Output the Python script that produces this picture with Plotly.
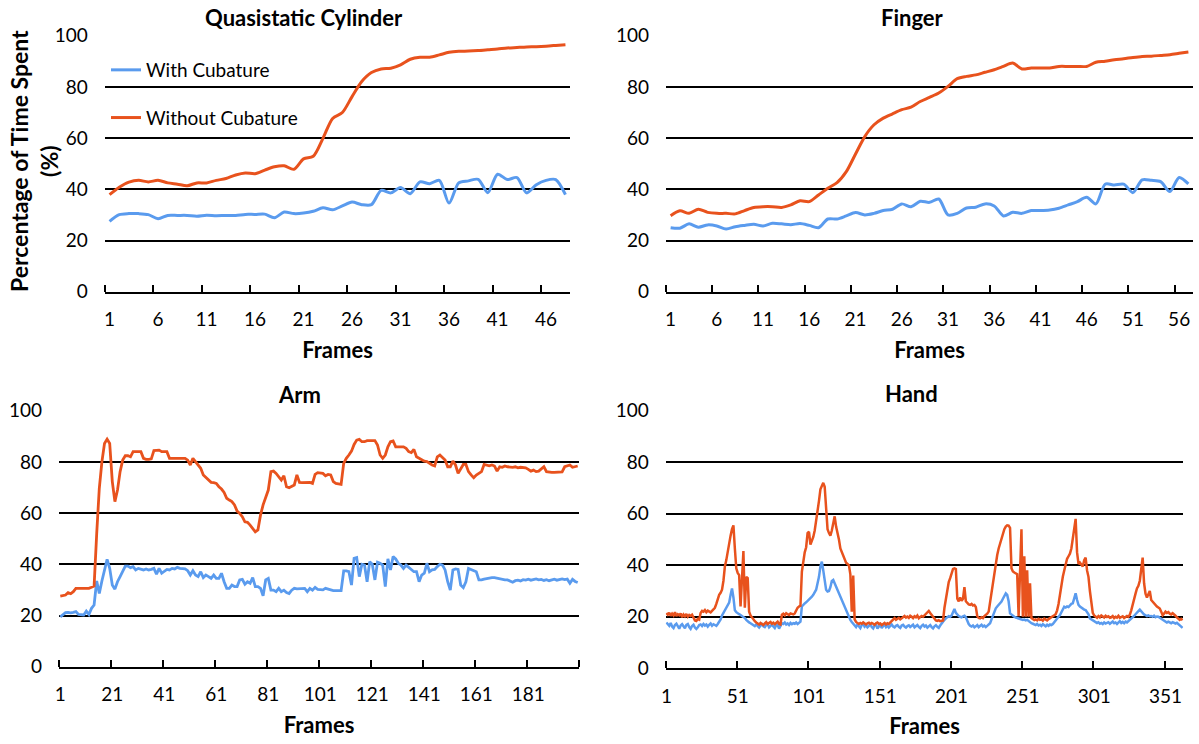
import plotly.graph_objects as go

BLUE = "#5A9BEE"
ORANGE = "#E8521D"
FONT = "Lato"
W, H = 1199, 744

# ---------------- data ----------------
cyl_frames = list(range(1, 49))
cyl_ticks = [1, 6, 11, 16, 21, 26, 31, 36, 41, 46]
cyl_with = [27.5, 30.1, 30.5, 30.5, 30.1, 28.5, 29.8, 29.8, 29.8, 29.5,
            29.9, 29.7, 29.8, 29.8, 30.2, 30.2, 30.3, 28.9, 31.1, 30.5,
            30.7, 31.4, 32.8, 32.0, 33.5, 35.0, 34.0, 34.0, 39.6, 38.6,
            40.7, 38.3, 42.9, 42.2, 43.5, 34.6, 42.5, 43.3, 43.9, 38.7,
            45.9, 43.8, 44.6, 38.6, 41.8, 43.5, 43.8, 37.9]
cyl_without = [37.9, 40.8, 42.8, 43.5, 42.9, 43.5, 42.5, 42.0, 41.4, 42.5,
               42.5, 43.5, 44.2, 45.6, 46.4, 46.1, 47.5, 48.8, 49.2, 47.8,
               51.9, 52.9, 59.9, 67.7, 70.0, 76.2, 82.1, 85.6, 87.0, 87.3,
               88.6, 90.8, 91.6, 91.6, 92.5, 93.5, 93.9, 94.0, 94.2, 94.5,
               94.8, 95.2, 95.4, 95.6, 95.7, 95.9, 96.2, 96.5]

finger_frames = list(range(1, 58))
finger_ticks = [1, 6, 11, 16, 21, 26, 31, 36, 41, 46, 51, 56]
finger_with = [25.0, 24.8, 26.5, 25.2, 26.1, 25.7, 24.5, 25.4, 25.9, 26.3,
               25.7, 26.7, 26.5, 26.2, 26.6, 25.9, 25.0, 28.4, 28.4, 29.6,
               30.9, 30.0, 30.6, 31.7, 32.2, 34.3, 33.2, 35.3, 34.9, 36.2,
               30.0, 30.6, 32.7, 33.0, 34.3, 33.5, 29.6, 31.0, 30.6, 31.7,
               31.7, 31.9, 32.6, 33.9, 35.2, 36.9, 34.3, 42.0, 41.7, 42.0,
               38.7, 43.7, 43.5, 43.0, 39.1, 44.6, 42.1]
finger_without = [29.7, 31.6, 30.6, 32.2, 31.0, 30.6, 30.6, 30.4, 31.7, 32.9,
                  33.2, 33.2, 32.9, 33.9, 35.5, 35.2, 37.8, 40.4, 42.6, 46.9,
                  53.8, 60.6, 65.2, 67.8, 69.5, 71.1, 72.1, 74.3, 75.9, 77.6,
                  80.2, 83.2, 84.1, 84.7, 85.7, 86.7, 88.0, 89.3, 87.0, 87.4,
                  87.4, 87.4, 88.0, 88.0, 88.0, 88.0, 89.6, 90.0, 90.6, 91.0,
                  91.5, 91.9, 92.0, 92.3, 92.6, 93.1, 93.6]

arm_frames = list(range(1, 201))
arm_ticks = [1, 21, 41, 61, 81, 101, 121, 141, 161, 181]
arm_with = [19.5, 20.4, 21.1, 21.2, 21.0, 21.2, 21.5, 20.4, 20.4, 20.2,
            21.7, 20.4, 22.8, 24.1, 33.5, 28.6, 33.5, 38.4, 41.9, 38.4,
            31.9, 30.3, 33.2, 35.2, 37.1, 39.3, 39.3, 38.7, 39.1, 37.8,
            38.4, 38.0, 37.8, 38.2, 37.8, 38.0, 38.4, 36.1, 38.4, 36.5,
            37.1, 38.0, 37.8, 38.4, 38.2, 38.8, 38.4, 38.4, 38.2, 37.5,
            35.8, 37.5, 35.8, 35.2, 37.1, 34.8, 35.8, 35.2, 34.5, 35.8,
            34.5, 34.5, 36.5, 33.2, 30.6, 30.6, 31.9, 31.3, 31.3, 33.9,
            34.1, 32.2, 33.2, 32.6, 34.8, 31.3, 31.3, 30.6, 27.7, 33.9,
            34.5, 29.9, 29.9, 29.3, 30.6, 29.3, 29.9, 29.0, 28.6, 29.9,
            30.6, 30.4, 30.5, 30.6, 30.6, 29.3, 30.6, 29.9, 31.0, 30.2,
            30.0, 30.0, 30.6, 30.3, 29.7, 29.7, 29.7, 29.7, 29.7, 37.4,
            37.4, 37.1, 31.9, 42.3, 42.6, 35.2, 40.0, 39.7, 33.2, 41.0,
            40.0, 33.9, 40.8, 40.4, 39.7, 31.3, 42.1, 37.8, 43.0, 42.1,
            40.4, 39.7, 38.4, 39.7, 38.7, 38.0, 37.1, 37.1, 33.2, 35.8,
            36.5, 40.4, 37.1, 37.8, 38.0, 39.1, 40.0, 39.7, 37.8, 33.2,
            29.9, 37.8, 38.2, 38.0, 31.9, 30.9, 33.2, 38.4, 38.0, 37.8,
            37.1, 33.9, 33.9, 34.2, 34.5, 34.5, 34.8, 34.8, 34.5, 34.2,
            34.2, 33.9, 33.9, 33.5, 33.0, 33.6, 33.8, 33.5, 34.0, 33.8,
            34.2, 33.8, 34.0, 34.3, 33.9, 34.1, 33.7, 34.0, 33.6, 34.0,
            34.2, 33.8, 34.1, 34.3, 34.0, 34.2, 32.6, 34.1, 33.3, 32.9]
arm_without = [27.6, 27.8, 28.0, 28.9, 28.5, 29.3, 30.6, 30.6, 30.6, 30.6,
               30.6, 30.6, 31.0, 31.5, 52.0, 69.7, 80.0, 87.2, 88.9, 87.2,
               72.3, 64.5, 69.0, 76.2, 80.7, 82.4, 82.4, 82.0, 84.0, 84.0,
               84.2, 84.0, 81.4, 81.0, 81.0, 81.2, 84.4, 84.6, 84.6, 84.0,
               84.0, 84.0, 81.4, 81.4, 81.6, 81.6, 81.6, 81.6, 81.4, 80.7,
               78.8, 81.4, 80.0, 78.8, 77.5, 74.9, 73.8, 72.9, 72.0, 71.9,
               71.6, 70.3, 69.4, 68.1, 65.8, 65.1, 64.5, 63.2, 60.8, 59.9,
               58.6, 56.6, 56.4, 55.3, 53.8, 52.7, 53.4, 59.2, 63.2, 65.8,
               69.0, 76.2, 76.4, 75.5, 74.2, 72.9, 74.6, 70.3, 69.9, 70.3,
               71.0, 74.9, 72.0, 71.9, 71.9, 72.0, 72.0, 71.6, 75.1, 75.8,
               75.5, 75.5, 74.6, 75.1, 74.9, 72.3, 71.6, 71.4, 71.2, 79.4,
               81.4, 82.7, 84.2, 86.8, 88.5, 88.8, 87.9, 87.9, 88.3, 88.3,
               88.3, 88.3, 86.6, 82.7, 81.4, 82.7, 85.9, 87.9, 88.2, 85.9,
               85.9, 85.9, 85.9, 85.3, 84.0, 83.6, 84.9, 82.0, 81.4, 80.7,
               80.3, 80.1, 79.4, 78.8, 78.4, 82.0, 82.7, 81.6, 80.7, 78.1,
               78.1, 80.3, 78.8, 75.5, 77.5, 79.0, 79.0, 76.2, 74.9, 73.8,
               74.9, 75.5, 76.2, 79.0, 78.8, 78.5, 78.8, 78.4, 76.4, 78.1,
               77.9, 78.4, 78.1, 77.9, 77.9, 78.1, 77.7, 77.9, 77.7, 77.7,
               77.1, 76.4, 76.8, 76.2, 76.4, 77.3, 78.1, 76.2, 75.9, 75.9,
               75.9, 75.9, 75.9, 76.1, 78.1, 78.4, 78.8, 77.9, 78.1, 78.4]

hand_frames = list(range(1, 364))
hand_ticks = [1, 51, 101, 151, 201, 251, 301, 351]
hand_with = [17.8, 17.2, 16.5, 17.6, 16.2, 15.6, 16.8, 17.3, 16.0, 15.4,
             16.6, 17.1, 16.3, 15.5, 16.9, 17.2, 16.0, 15.3, 16.4, 16.9,
             15.8, 15.3, 15.9, 16.8, 17.0, 16.4, 17.2, 16.6, 17.0, 16.2,
             16.9, 17.4, 16.5, 17.1, 16.8, 16.5, 17.2, 18.0, 19.0, 20.5,
             21.5, 22.6, 23.5, 24.5, 25.5, 28.5, 31.0, 27.5, 22.5, 21.8,
             21.3, 21.0, 20.7, 20.4, 20.0, 19.5, 18.8, 18.2, 17.8, 17.5,
             17.1, 16.8, 16.4, 17.0, 16.5, 15.8, 16.6, 17.1, 16.3, 16.0,
             16.8, 17.2, 15.9, 16.4, 17.0, 16.2, 15.6, 16.7, 16.9, 15.4,
             16.3, 17.5, 17.2, 17.8, 17.0, 17.4, 16.8, 17.6, 17.1, 17.5,
             17.3, 17.8, 17.2, 17.6, 18.1, 24.0, 24.8, 25.2, 25.6, 26.1,
             26.5, 27.0, 27.8, 28.5, 29.5, 30.5, 33.0, 35.5, 39.5, 41.4,
             38.0, 34.5, 30.5, 29.8, 30.0, 31.5, 33.9, 34.3, 33.0, 31.7,
             30.0, 28.5, 27.8, 26.5, 25.2, 23.5, 22.0, 20.8, 19.5, 18.8,
             18.0, 17.2, 16.5, 16.0, 17.0, 16.3, 15.6, 16.8, 17.4, 16.2,
             16.7, 15.9, 16.4, 17.3, 16.0, 15.5, 16.6, 17.0, 15.4, 16.2,
             16.9, 15.6, 16.3, 17.1, 16.0, 16.6, 15.8, 16.4, 17.0, 16.2,
             15.9, 16.5, 16.8, 16.1, 15.7, 16.6, 16.9, 16.2, 15.8, 16.4,
             16.7, 16.0, 16.5, 16.9, 15.9, 16.3, 16.8, 16.1, 15.6, 16.5,
             16.9, 16.2, 16.6, 15.8, 16.4, 16.8, 16.0, 15.5, 16.3, 16.7,
             16.1, 15.7, 16.6, 17.5, 18.2, 18.8, 19.4, 19.8, 20.2, 20.0,
             20.5, 21.8, 23.0, 21.5, 20.7, 20.3, 20.0, 19.8, 20.2, 20.4,
             19.8, 18.1, 17.2, 16.5, 16.2, 16.6, 15.9, 16.3, 16.8, 16.0,
             16.4, 16.9, 16.2, 16.6, 16.0, 16.5, 16.8, 17.5, 19.0, 20.7,
             22.0, 23.3, 24.0, 24.6, 25.2, 25.9, 27.0, 28.0, 29.1, 28.5,
             26.0, 21.3, 20.8, 20.4, 20.0, 19.7, 19.5, 19.4, 19.2, 19.0,
             18.8, 18.9, 18.6, 18.8, 18.3, 17.9, 17.5, 17.3, 17.0, 16.8,
             17.2, 16.6, 16.9, 16.4, 17.1, 16.7, 16.3, 16.9, 16.5, 17.0,
             16.8, 17.2, 17.8, 18.4, 19.2, 20.0, 20.7, 22.0, 23.2, 23.9,
             23.6, 24.0, 23.8, 24.5, 25.0, 25.2, 27.0, 29.1, 26.5, 24.6,
             24.0, 23.5, 23.0, 22.8, 22.6, 22.0, 21.0, 19.4, 19.0, 18.6,
             18.4, 18.0, 17.6, 17.9, 17.3, 17.6, 17.2, 17.8, 17.4, 17.6,
             17.9, 17.3, 17.7, 18.2, 17.5, 17.8, 17.2, 17.9, 18.3, 17.6,
             18.0, 17.5, 18.1, 17.8, 18.3, 18.8, 19.2, 19.5, 20.3, 21.0,
             21.8, 22.2, 22.8, 22.0, 21.2, 20.9, 20.6, 20.3, 20.5, 20.2,
             20.3, 20.0, 20.4, 19.8, 20.1, 20.0, 19.6, 19.2, 18.8, 18.3,
             18.0, 17.8, 18.1, 17.7, 17.5, 17.9, 17.6, 17.4, 17.7, 17.2,
             16.8, 16.2, 15.7]
hand_without = [21.5, 20.8, 21.6, 20.4, 21.2, 20.5, 21.8, 20.3, 21.0, 20.6,
                21.3, 19.8, 20.9, 20.2, 21.1, 20.0, 20.7, 20.3, 20.8, 19.5,
                18.6, 18.4, 19.2, 18.9, 21.5, 22.3, 22.0, 22.6, 21.8, 22.4,
                22.1, 21.7, 22.3, 22.8, 23.5, 25.0, 27.2, 28.5, 29.3, 30.5,
                34.0, 39.5, 42.0, 45.5, 48.0, 51.5, 54.0, 55.5, 46.5, 38.8,
                37.0, 36.2, 24.0, 36.0, 45.5, 23.5, 35.5, 35.0, 22.0, 20.5,
                19.6, 18.8, 18.3, 17.8, 17.5, 17.0, 17.6, 17.2, 16.8, 17.4,
                17.9, 17.2, 17.6, 18.0, 17.3, 17.7, 17.1, 17.5, 18.1, 17.2,
                17.0, 20.8, 21.2, 20.6, 21.4, 21.0, 20.7, 21.3, 21.1, 20.9,
                21.3, 22.8, 23.5, 24.0, 24.3, 37.5, 42.5, 45.0, 47.0, 52.5,
                53.0, 48.0, 49.5, 51.0, 53.5, 57.0, 61.0, 65.0, 69.5, 71.0,
                72.0, 70.5, 60.0, 54.0, 52.5, 51.5, 53.5, 56.5, 59.0, 55.0,
                53.0, 50.0, 46.5, 45.0, 43.5, 42.5, 41.0, 40.5, 40.0, 36.5,
                22.0, 36.0, 19.0, 18.0, 17.5, 17.2, 17.6, 17.3, 17.8, 17.4,
                17.0, 17.5, 17.7, 17.2, 17.6, 17.3, 16.9, 17.5, 17.8, 17.2,
                17.4, 16.8, 17.3, 17.6, 17.0, 17.5, 17.2, 17.8, 18.5, 19.2,
                19.5, 18.8, 19.3, 19.6, 19.0, 19.4, 19.8, 20.3, 19.7, 20.1,
                19.6, 20.4, 20.0, 19.5, 20.2, 19.8, 20.5, 19.4, 19.9, 20.3,
                20.0, 20.6, 21.2, 21.8, 22.3, 21.5, 20.7, 20.0, 19.2, 18.6,
                18.4, 18.7, 18.3, 18.5, 18.6, 23.5, 27.0, 31.0, 33.5, 35.0,
                37.0, 38.6, 38.8, 38.5, 27.0, 26.0, 27.5, 26.2, 27.0, 31.5,
                26.0, 25.2, 24.8, 24.6, 25.0, 24.4, 24.6, 23.8, 20.2, 19.6,
                19.4, 19.8, 19.5, 20.3, 20.7, 21.2, 22.0, 26.0, 30.0, 33.5,
                38.0, 41.5, 44.0, 46.5, 48.5, 50.5, 52.5, 54.0, 55.0, 55.5,
                55.4, 54.5, 38.8, 37.6, 37.2, 36.9, 36.5, 20.2, 35.0, 54.0,
                20.0, 43.5, 20.0, 38.0, 20.0, 33.0, 19.5, 19.0, 18.7, 19.0,
                18.6, 19.2, 18.8, 19.0, 18.5, 19.3, 18.9, 18.6, 19.1, 19.4,
                19.8, 20.3, 20.6, 21.0, 22.5, 25.0, 29.0, 32.5, 35.5, 38.0,
                41.0, 42.5, 43.5, 44.5, 46.5, 50.0, 55.0, 58.0, 45.0, 40.5,
                41.0, 40.0, 39.5, 42.0, 43.0, 38.0, 35.5, 30.0, 24.5, 21.5,
                20.5, 20.0, 19.6, 20.3, 19.8, 20.5, 20.1, 19.7, 20.4, 19.9,
                20.2, 19.6, 19.8, 20.3, 19.5, 20.0, 19.7, 20.4, 19.6, 19.9,
                20.2, 19.5, 19.8, 20.3, 20.0, 20.8, 22.5, 25.0, 26.7, 29.0,
                31.0, 32.0, 34.0, 38.5, 43.0, 33.0, 29.0, 27.5, 28.5, 30.0,
                26.5, 25.8, 25.0, 24.5, 24.0, 23.6, 23.2, 22.0, 20.6, 21.2,
                22.0, 21.5, 21.8, 21.2, 20.9, 21.4, 20.7, 20.4, 19.8, 19.2,
                18.8, 19.2, 18.7]

y_ticks = [0, 20, 40, 60, 80, 100]

# ---------------- layout geometry (pixels) ----------------
panels = [
    dict(name="Quasistatic Cylinder", frames=cyl_frames, w=cyl_with, wo=cyl_without,
         ticks=cyl_ticks, step=5, px=(104.7, 570.3), py=(35.7, 291.7), title=(304, 18),
         shape="spline", lw=3),
    dict(name="Finger", frames=finger_frames, w=finger_with, wo=finger_without,
         ticks=finger_ticks, step=5, px=(666, 1193), py=(35.7, 291.7), title=(912, 18),
         shape="spline", lw=3),
    dict(name="Arm", frames=arm_frames, w=arm_with, wo=arm_without,
         ticks=arm_ticks, step=20, px=(59, 579), py=(410.7, 666.7), title=(299, 394),
         shape="linear", lw=2.8),
    dict(name="Hand", frames=hand_frames, w=hand_with, wo=hand_without,
         ticks=hand_ticks, step=50, px=(665.7, 1183.3), py=(410.7, 668.3), title=(911, 393),
         shape="linear", lw=2.5),
]

fig = go.Figure()
annotations = []
for k, p in enumerate(panels):
    sfx = "" if k == 0 else str(k + 1)
    xa, ya = "x" + sfx, "y" + sfx
    first = (k == 0)
    fig.add_trace(go.Scatter(x=p["frames"], y=p["w"], mode="lines", name="With Cubature",
                             legendgroup="w", showlegend=first,
                             line=dict(color=BLUE, width=p["lw"], shape=p["shape"], smoothing=0.8),
                             xaxis=xa, yaxis=ya))
    fig.add_trace(go.Scatter(x=p["frames"], y=p["wo"], mode="lines", name="Without Cubature",
                             legendgroup="wo", showlegend=first,
                             line=dict(color=ORANGE, width=p["lw"], shape=p["shape"], smoothing=0.8),
                             xaxis=xa, yaxis=ya))
    n = len(p["frames"])
    xdom = [p["px"][0] / W, p["px"][1] / W]
    ydom = [1 - p["py"][1] / H, 1 - p["py"][0] / H]
    fig.layout["xaxis" + sfx] = dict(
        domain=xdom, anchor=ya, range=[0.5, n + 0.5], automargin=False,
        tickmode="array", tickvals=p["ticks"], ticktext=[str(t) for t in p["ticks"]],
        ticks="", showgrid=False, zeroline=False,
        showline=True, linecolor="black", linewidth=1.7,
        ticklabelstandoff=10,
        tickfont=dict(family=FONT, size=19, color="black"),
        minor=dict(tickmode="linear", tick0=0.5, dtick=p["step"], ticks="inside",
                   ticklen=7, tickwidth=1.5, tickcolor="black", showgrid=False),
        title=dict(text="<b>Frames</b>", font=dict(family=FONT, size=22, color="black"),
                   standoff=13),
    )
    fig.layout["yaxis" + sfx] = dict(
        domain=ydom, anchor=xa, range=[0, 100], automargin=False,
        tickmode="array", tickvals=y_ticks, ticks="",
        showgrid=True, gridcolor="black", gridwidth=1.5,
        zeroline=False, showline=False,
        ticklabelstandoff=16,
        tickfont=dict(family=FONT, size=19, color="black"),
    )
    annotations.append(dict(text="<b>%s</b>" % p["name"], xref="paper", yref="paper",
                            x=p["title"][0] / W, y=1 - p["title"][1] / H,
                            xanchor="center", yanchor="middle", showarrow=False,
                            font=dict(family=FONT, size=22, color="black")))

annotations.append(dict(text="<b>Percentage of Time Spent<br>(%)</b>", xref="paper", yref="paper",
                        x=34 / W, y=1 - 161 / H, xanchor="center", yanchor="middle",
                        textangle=-90, showarrow=False,
                        font=dict(family=FONT, size=23, color="black")))

fig.update_layout(
    width=W, height=H,
    margin=dict(l=0, r=0, t=0, b=0, autoexpand=False),
    paper_bgcolor="white", plot_bgcolor="white",
    font=dict(family=FONT, size=19, color="black"),
    annotations=annotations,
    showlegend=True,
    legend=dict(x=106 / W, y=1 - 51 / H, xanchor="left", yanchor="top",
                bgcolor="rgba(0,0,0,0)", traceorder="grouped", tracegroupgap=20,
                font=dict(family=FONT, size=19, color="black")),
)

fig.write_html("out.html")
